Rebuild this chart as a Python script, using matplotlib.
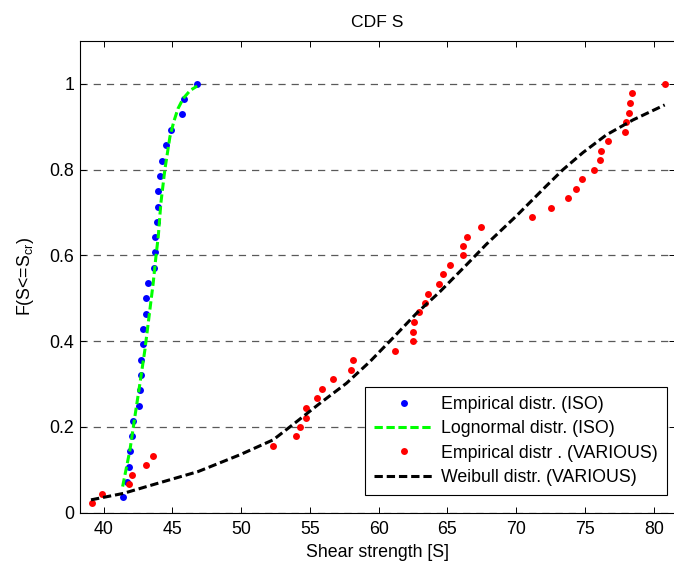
import numpy as np
import matplotlib
matplotlib.use("Agg")
import matplotlib.pyplot as plt
from matplotlib.ticker import FormatStrFormatter

plt.rcParams['font.family'] = ['Liberation Sans', 'DejaVu Sans']
plt.rcParams['mathtext.default'] = 'regular'
plt.rcParams['lines.scale_dashes'] = False

# ISO series: empirical CDF points and lognormal fit
iso_S = [41.40, 41.72, 41.82, 41.91, 42.03, 42.13, 42.54, 42.64, 42.73, 42.73,
         42.83, 42.83, 43.05, 43.05, 43.24, 43.66, 43.75, 43.75, 43.85, 43.95,
         43.95, 44.11, 44.24, 44.55, 44.89, 45.67, 45.86, 46.80]
iso_F = [0.036, 0.071, 0.107, 0.143, 0.179, 0.214, 0.250, 0.286, 0.321, 0.357,
         0.393, 0.429, 0.464, 0.500, 0.536, 0.571, 0.607, 0.643, 0.679, 0.714,
         0.750, 0.786, 0.821, 0.857, 0.893, 0.929, 0.964, 1.000]

logn_S = [41.38, 41.91, 42.27, 42.64, 43.00, 43.36, 43.60, 43.80, 43.97, 44.16,
          44.45, 44.82, 45.10, 45.40, 45.78, 46.30, 46.80]
logn_F = [0.061, 0.146, 0.224, 0.302, 0.380, 0.473, 0.535, 0.597, 0.644, 0.722,
          0.800, 0.877, 0.912, 0.942, 0.966, 0.985, 0.995]

# VARIOUS series: empirical CDF points and Weibull fit
var_S = [39.13, 39.85, 41.84, 42.03, 43.05, 43.56, 52.28, 53.98, 54.27, 54.68,
         54.68, 55.48, 55.86, 56.69, 57.99, 58.10, 61.19, 62.50, 62.50, 62.60,
         62.91, 63.40, 63.62, 64.37, 64.71, 65.22, 66.13, 66.13, 66.42, 67.42,
         71.15, 72.56, 73.74, 74.35, 74.76, 75.65, 76.07, 76.16, 76.67, 77.89,
         77.98, 78.17, 78.27, 78.45, 80.81]
var_F = [0.022, 0.044, 0.067, 0.089, 0.111, 0.133, 0.156, 0.178, 0.200, 0.222,
         0.244, 0.267, 0.289, 0.311, 0.333, 0.356, 0.378, 0.400, 0.422, 0.444,
         0.467, 0.489, 0.511, 0.533, 0.556, 0.578, 0.600, 0.622, 0.644, 0.667,
         0.689, 0.711, 0.733, 0.756, 0.778, 0.800, 0.822, 0.844, 0.867, 0.889,
         0.911, 0.933, 0.956, 0.978, 1.000]

wbl_S = [39.08, 41.42, 43.12, 46.87, 49.90, 52.33, 53.90, 55.72, 57.66, 59.35,
         61.05, 62.75, 64.44, 66.38, 67.83, 70.01, 72.19, 73.40, 74.86, 76.55,
         78.49, 80.80]
wbl_F = [0.030, 0.045, 0.061, 0.096, 0.135, 0.170, 0.209, 0.255, 0.302, 0.352,
         0.408, 0.465, 0.515, 0.578, 0.626, 0.692, 0.762, 0.800, 0.840, 0.881,
         0.916, 0.951]

x_ticks = [40, 45, 50, 55, 60, 65, 70, 75, 80]
y_ticks = [0, 0.2, 0.4, 0.6, 0.8, 1.0]

FS = 12.8

fig = plt.figure(figsize=(6.74, 5.63), dpi=100)
ax = fig.add_axes([0.1187, 0.0893, 0.8828, 0.8378])

ax.plot(iso_S, iso_F, linestyle="none", marker="o", markersize=5,
        color="blue", markeredgewidth=0, label="Empirical distr. (ISO)")
ax.plot(logn_S, logn_F, color="#00ff00", linewidth=2.2, dashes=(6, 2.6),
        label="Lognormal distr. (ISO)")
ax.plot(var_S, var_F, linestyle="none", marker="o", markersize=5,
        color="red", markeredgewidth=0, label="Empirical distr . (VARIOUS)")
ax.plot(wbl_S, wbl_F, color="black", linewidth=2.2, dashes=(6, 2.8),
        label="Weibull distr. (VARIOUS)")

ax.set_xlim(38.28, 81.55)
ax.set_ylim(0, 1.1)
ax.set_xticks(x_ticks)
ax.set_yticks(y_ticks)
ax.yaxis.set_major_formatter(FormatStrFormatter("%g"))
ax.tick_params(direction="in", length=4.5, width=0.7, top=True, right=True,
               labelsize=FS)
ax.tick_params(axis="x", pad=6)
ax.tick_params(axis="y", pad=4)
for sp in ax.spines.values():
    sp.set_linewidth(0.8)
ax.spines["right"].set_visible(False)

ax.yaxis.grid(True, color="0.35", linewidth=0.9, dashes=(5.2, 4.3))
ax.set_axisbelow(True)

ax.set_title("CDF S", fontsize=12.6, pad=10)
ax.set_xlabel("Shear strength [S]", fontsize=FS, labelpad=4)
ax.set_ylabel("F(S<=S$_{cr}$)", fontsize=FS, labelpad=10)

leg = ax.legend(loc="lower right", bbox_to_anchor=(0.9866, 0.0375),
                borderaxespad=0, fontsize=FS, numpoints=1, handlelength=3.35,
                handletextpad=0.45, borderpad=0.5, labelspacing=0.42,
                fancybox=False, framealpha=1, edgecolor="black")
leg.get_frame().set_linewidth(0.8)

fig.savefig("out.png", dpi=100)
